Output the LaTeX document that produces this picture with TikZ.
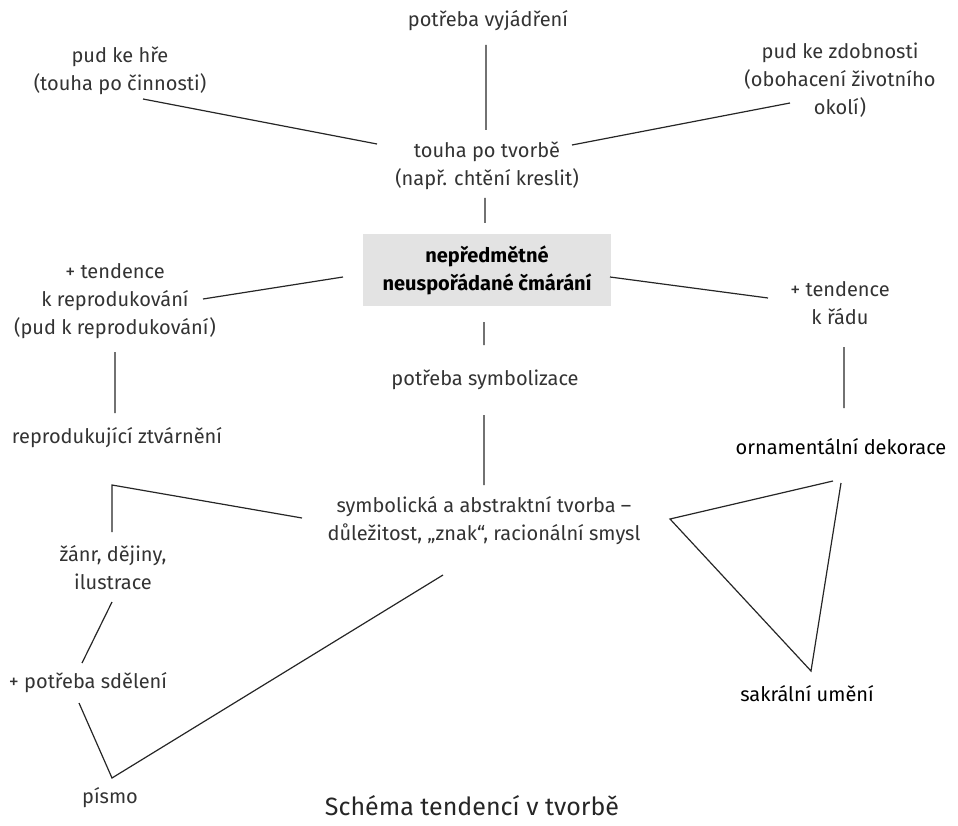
\documentclass[tikz,border=0pt]{standalone}
\usepackage{fontspec}
\setmainfont{Fira Sans}
\usepackage{tikz}

\begin{document}
\begin{tikzpicture}[x=1pt,y=-1pt,
    txt/.style={align=center,inner sep=0pt,text=black!80,font=\fontsize{20}{28}\selectfont},
    tucny/.style={txt,text=black},
    ramec/.style={txt,text=black,font=\fontsize{20}{28}\selectfont\bfseries,fill=black!11,
      minimum width=248,minimum height=71},
    nadpis/.style={txt,text=black!85,font=\fontsize{25}{30}\selectfont},
    spoj/.style={line width=1.2pt,black!85}]
    \useasboundingbox (0,0) rectangle (958,826);
    \node[txt] (vyj) at (488,21) {potřeba vyjádření};
    \node[txt] (hra) at (120,71) {pud ke hře\\(touha po činnosti)};
    \node[txt] (tvorba) at (487,166) {touha po tvorbě\\(např. chtění kreslit)};
    \node[txt] (zdob) at (840,80) {pud ke zdobnosti\\(obohacení životního\\okolí)};
    \node[ramec] (cmar) at (487,270) {nepředmětné\\neuspořádané čmárání};
    \node[txt] (repro) at (115,301) {+ tendence\\k reprodukování\\(pud k reprodukování)};
    \node[txt] (rad) at (840,303) {+ tendence\\k řádu};
    \node[txt] (symb) at (485,380) {potřeba symbolizace};
    \node[txt] (ztv) at (117,438) {reprodukující ztvárnění};
    \node[tucny] (orn) at (841,447) {ornamentální dekorace};
    \node[txt] (abstr) at (484,521) {symbolická a abstraktní tvorba –\\důležitost, „znak“, racionální smysl};
    \node[txt] (zanr) at (113,568) {žánr, dějiny,\\ilustrace};
    \node[txt] (sdel) at (88,683) {+ potřeba sdělení};
    \node[tucny] (sakr) at (807,694) {sakrální umění};
    \node[txt] (pismo) at (110,798) {písmo};
    \node[nadpis] (titul) at (472,806) {Schéma tendencí v tvorbě};
   \draw[spoj]
    ([shift={(-2,24)}]vyj.center) -- ([shift={(-1,-36)}]tvorba.center)
    ([shift={(23,28)}]hra.center) -- ([shift={(-110,-22)}]tvorba.center)
    ([shift={(85,-21)}]tvorba.center) -- ([shift={(-50,23)}]zdob.center)
    ([shift={(-2,32)}]tvorba.center) -- ([shift={(-2,-47)}]cmar.center)
    ([shift={(-144,7)}]cmar.center) -- ([shift={(88,-2)}]repro.center)
    ([shift={(123,7)}]cmar.center) -- ([shift={(-72,-5)}]rad.center)
    ([shift={(-3,52)}]cmar.center) -- ([shift={(-1,-35)}]symb.center)
    ([shift={(-1,35)}]symb.center) -- ([shift={(0,-36)}]abstr.center)
    ([shift={(0,51)}]repro.center) -- ([shift={(-2,-25)}]ztv.center)
    ([shift={(4,44)}]rad.center) -- ([shift={(3,-39)}]orn.center);
   \draw[spoj]
    ([shift={(-182,-3)}]abstr.center) -- ++(-190,-33) -- ([shift={(-1,-36)}]zanr.center)
    ([shift={(-1,34)}]zanr.center) -- ([shift={(-6,-20)}]sdel.center)
    ([shift={(-9,20)}]sdel.center) -- ([shift={(2,-20)}]pismo.center) -- ([shift={(-41,54)}]abstr.center)
    ([shift={(-8,34)}]orn.center) -- ([shift={(186,-2)}]abstr.center) -- ([shift={(4,-23)}]sakr.center) -- ([shift={(0,36)}]orn.center);
  \end{tikzpicture}
\end{document}
